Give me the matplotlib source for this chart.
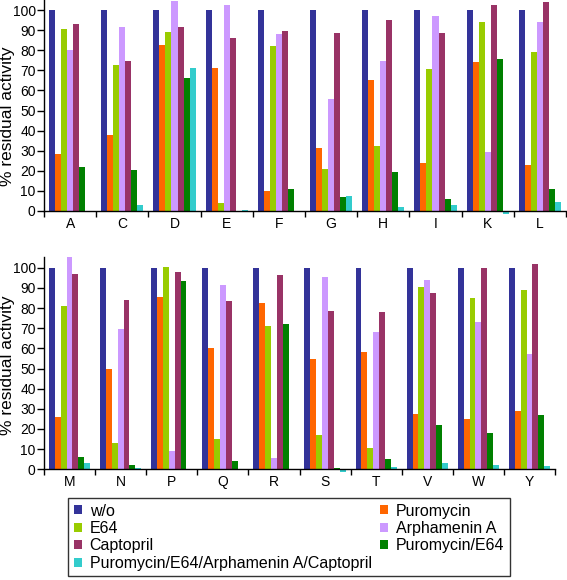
import matplotlib
matplotlib.use("Agg")
import matplotlib.pyplot as plt
import numpy as np

plt.rcParams['font.family'] = ['Liberation Sans', 'DejaVu Sans']

series = ["w/o", "Puromycin", "E64", "Arphamenin A", "Captopril",
          "Puromycin/E64", "Puromycin/E64/Arphamenin A/Captopril"]
colors = ["#333399", "#FF6600", "#99CC00", "#CC99FF", "#993366", "#008000", "#33CCCC"]

cats_top = ["A", "C", "D", "E", "F", "G", "H", "I", "K", "L"]
top_wo   = [100, 100, 100, 100, 100, 100, 100, 100, 100, 100]
top_puro = [28.5, 38, 82.5, 71, 10, 31.5, 65, 23.7, 74, 22.9]
top_e64  = [90.5, 72.5, 89, 4, 82, 21, 32.3, 70.5, 93.9, 79.3]
top_arph = [80, 91.5, 104.5, 102.5, 88, 55.5, 74.8, 97, 29.4, 94]
top_capt = [93, 74.5, 91.5, 86, 89.5, 88.7, 95, 88.4, 102.3, 104]
top_pe   = [22, 20.5, 66, 0, 11, 7, 19.2, 5.8, 75.6, 11]
top_all  = [-0.5, 3, 71, 0.5, 0, 7.6, 2.2, 3.2, -1.5, 4.3]

cats_bot = ["M", "N", "P", "Q", "R", "S", "T", "V", "W", "Y"]
bot_wo   = [100, 100, 100, 100, 100, 100, 100, 100, 100, 100]
bot_puro = [26.2, 50, 85.5, 60.2, 82.7, 54.8, 58.3, 27.4, 25, 29]
bot_e64  = [80.9, 12.9, 100.5, 15, 71.3, 16.8, 10.7, 90.4, 85.1, 88.9]
bot_arph = [105.4, 69.5, 9, 91.6, 5.8, 95.4, 68.3, 93.7, 73.1, 57.3]
bot_capt = [96.9, 84.2, 97.9, 83.3, 96.2, 78.5, 77.9, 87.5, 100, 102]
bot_pe   = [6.1, 2, 93.4, 4.3, 72, 0.5, 5.3, 22.1, 17.8, 26.9]
bot_all  = [3.3, 0.8, 0, 0.3, 0, -1.2, 1.2, 3, 2.3, 1.7]

W, H = 567, 580
fig = plt.figure(figsize=(W / 100, H / 100), dpi=100)

def make_axes(left, right, zero_y, top_y):
    return fig.add_axes([left / W, 1 - zero_y / H, (right - left) / W, (zero_y - top_y) / H])

def draw(ax, ytop, cats, data, left, right, label_y):
    n = len(cats)
    x = np.arange(n)
    bw = 0.115
    for i, (vals, c) in enumerate(zip(data, colors)):
        off = (i - 3) * bw
        ax.bar(x + off, vals, width=bw, color=c, edgecolor='none', linewidth=0,
               clip_on=False, zorder=2, label=series[i])
    ax.set_xlim(-0.5, n - 0.5)
    ax.set_ylim(0, ytop)
    ax.set_yticks(np.arange(0, 101, 10))
    ax.set_xticks(np.arange(n + 1) - 0.5)
    ax.set_xticklabels([])
    ax.set_xticks(x, minor=True)
    ax.set_xticklabels(cats, minor=True, fontsize=10)
    ax.tick_params(axis='x', which='major', direction='out', length=4, width=1, color='black')
    ax.tick_params(axis='x', which='minor', length=0, pad=4)
    ax.tick_params(axis='y', direction='out', length=5, width=1, labelsize=10, pad=1)
    for s in ['top', 'right']:
        ax.spines[s].set_visible(False)
    for s in ['left', 'bottom']:
        ax.spines[s].set_linewidth(1)
        ax.spines[s].set_zorder(3)
    ax.set_ylabel("% residual activity", fontsize=12.5)
    ax.yaxis.set_label_coords((15 - left) / (right - left), label_y)

ax1 = make_axes(44, 566, 211, 0)
draw(ax1, 105, cats_top, [top_wo, top_puro, top_e64, top_arph, top_capt, top_pe, top_all],
     44, 566, 0.45)
ax2 = make_axes(44, 555, 469.3, 256.7)
draw(ax2, 105.5, cats_bot, [bot_wo, bot_puro, bot_e64, bot_arph, bot_capt, bot_pe, bot_all],
     44, 555, 0.488)

handles, labels = ax1.get_legend_handles_labels()
order = [0, 2, 4, 6, 1, 3, 5]
leg = fig.legend([handles[i] for i in order], [labels[i] for i in order],
                 ncol=2, loc='upper left',
                 bbox_to_anchor=(68 / W, 1 - 579 / H, (510 - 68) / W, (579 - 498) / H),
                 mode='expand', borderaxespad=0, fontsize=11.5, frameon=True, fancybox=False,
                 handlelength=0.5, handleheight=0.5, handletextpad=0.5,
                 labelspacing=0.15, borderpad=0.35, columnspacing=1.0)
leg.get_frame().set_edgecolor('black')
leg.get_frame().set_linewidth(1)

fig.savefig("out.png", dpi=100)
